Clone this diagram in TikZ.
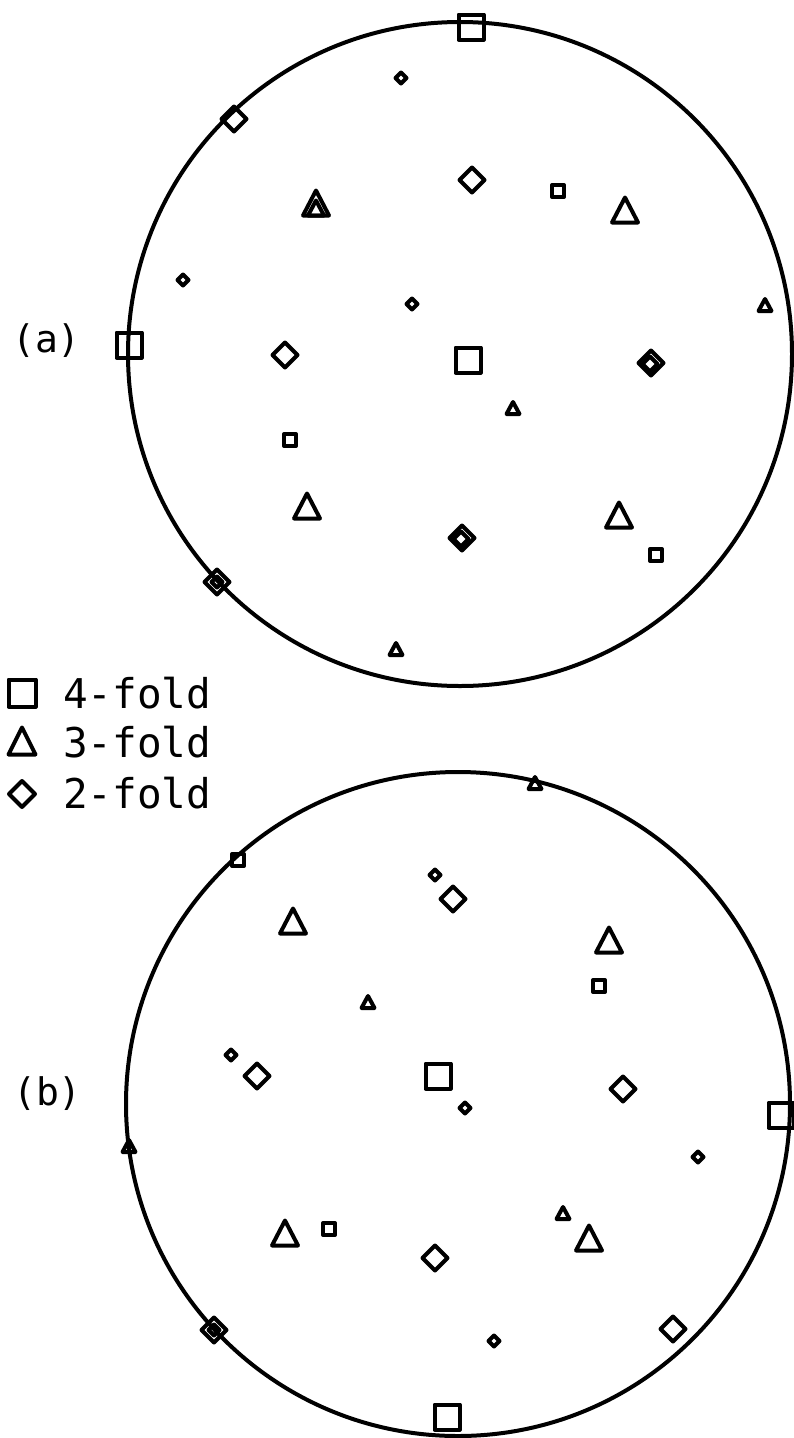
\documentclass[tikz,border=0pt]{standalone}
\usepackage{fontspec}
\newfontfamily\lblfont{DejaVu Sans Mono}
\tikzset{
  mk/.style={line width=4pt, line join=round, line cap=round},
  rim/.style={line width=4pt},
  lbl/.style={inner sep=0pt, anchor=base west, font=\lblfont\fontsize{38}{40}\selectfont},
  leg/.style={inner sep=0pt, anchor=base west, font=\lblfont\fontsize{41}{46}\selectfont}
}
% markers: #1,#2 = centre in px
\newcommand\SqL[2]{\draw[mk] (#1,#2) +(-12.5,-12.5) rectangle +(12.5,12.5);}
\newcommand\SqS[2]{\draw[mk] (#1,#2) +(-6,-6) rectangle +(6,6);}
\newcommand\DiL[2]{\draw[mk] (#1,#2) +(-12.5,0) -- +(0,-12.5) -- +(12.5,0) -- +(0,12.5) -- cycle;}
\newcommand\DiM[2]{\draw[mk] (#1,#2) +(-7.5,0) -- +(0,-7.5) -- +(7.5,0) -- +(0,7.5) -- cycle;}
\newcommand\DiS[2]{\draw[mk] (#1,#2) +(-5.5,0) -- +(0,-5.5) -- +(5.5,0) -- +(0,5.5) -- cycle;}
\newcommand\TrL[2]{\draw[mk] (#1,#2) +(-13,12.5) -- +(13,12.5) -- +(0,-12.5) -- cycle;}
\newcommand\TrM[2]{\draw[mk] (#1,#2) +(-8,7.5) -- +(8,7.5) -- +(0,-7.5) -- cycle;}
\newcommand\TrS[2]{\draw[mk] (#1,#2) +(-6.5,6) -- +(6.5,6) -- +(0,-6) -- cycle;}
\begin{document}
\begin{tikzpicture}[x=1pt,y=-1pt]
\useasboundingbox[fill=white] (0,0) rectangle (794,1438);
% ---------- (a) ----------
\draw[rim] (460,354) circle (332);
\node[lbl] (la) at (12,352) {(a)};
\SqL{471}{27}
\DiS{401}{78}
\DiL{234}{119}
\TrL{316}{203} \TrM{316}{208}
\DiL{472}{180}
\SqS{558}{191}
\TrL{625}{210}
\TrS{765}{305}
\DiS{183}{280}
\DiS{412}{304}
\SqL{129}{345}
\DiL{285}{355}
\SqL{468}{360}
\DiL{651}{363} \DiM{650}{364}
\TrS{513}{408}
\SqS{290}{440}
\TrL{307}{506}
\TrL{619}{515}
\DiL{462}{538} \DiM{461}{539}
\SqS{656}{555}
\DiL{217}{582} \DiS{217}{582}
\TrS{396}{649}
% ---------- legend ----------
\draw[mk] (22,693) +(-13.5,-13.5) rectangle +(13.5,13.5);
\draw[mk] (22,741) +(-13.5,13.5) -- +(13.5,13.5) -- +(0,-13.5) -- cycle;
\draw[mk] (22,794) +(-13,0) -- +(0,-13) -- +(13,0) -- +(0,13) -- cycle;
\node[leg] (l4) at (63,708) {4-fold};
\node[leg] (l3) at (63,757) {3-fold};
\node[leg] (l2) at (63,808) {2-fold};
% ---------- (b) ----------
\draw[rim] (458,1104) circle (332);
\node[lbl] (lb) at (13,1105) {(b)};
\TrS{535}{783}
\SqS{238}{860}
\DiS{435}{875}
\DiL{453}{899}
\TrL{293}{921}
\TrL{609}{940}
\SqS{599}{986}
\TrS{368}{1002}
\DiS{231}{1055}
\DiL{257}{1076}
\SqL{438}{1076}
\DiL{623}{1089}
\DiS{465}{1108}
\SqL{781}{1115}
\TrS{129}{1146}
\DiS{698}{1157}
\TrS{563}{1213}
\TrL{589}{1238}
\TrL{285}{1233}
\SqS{329}{1229}
\DiL{435}{1258}
\DiL{214}{1330} \DiS{214}{1330}
\DiL{673}{1329}
\DiS{494}{1341}
\SqL{447}{1417}
\end{tikzpicture}
\end{document}
